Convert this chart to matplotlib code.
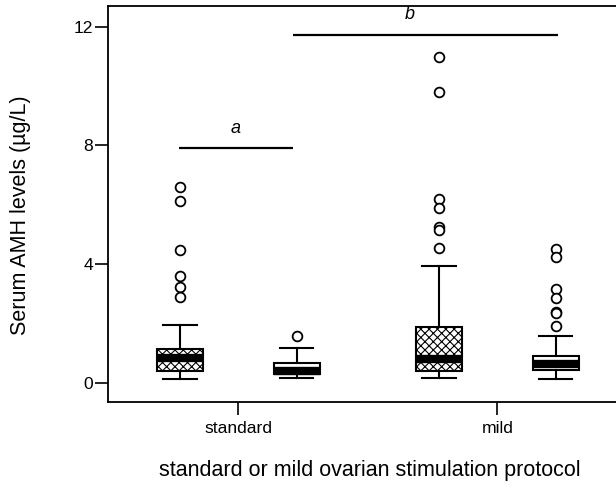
import matplotlib.pyplot as plt

plt.rcParams['font.family'] = ['Liberation Sans', 'DejaVu Sans']
plt.rcParams['hatch.linewidth'] = 0.8

# box statistics: (standard, hatched), (standard, plain), (mild, hatched), (mild, plain)
positions = [0.775, 1.225, 1.775, 2.225]
hatched = [True, False, True, False]
whislo = [0.14, 0.18, 0.17, 0.15]
q1 = [0.41, 0.29, 0.41, 0.45]
med = [0.85, 0.40, 0.80, 0.65]
q3 = [1.14, 0.66, 1.89, 0.92]
whishi = [1.96, 1.18, 3.94, 1.59]
fliers = [
    [6.61, 6.13, 4.47, 3.60, 3.25, 2.89],
    [1.60],
    [10.98, 9.80, 6.21, 5.88, 5.27, 5.15, 4.56],
    [4.53, 4.26, 3.18, 2.88, 2.41, 2.35, 1.92],
]

group_pos = [1, 2]
group_labels = ["standard", "mild"]

# significance bars: (x start, x end, y, label)
sig_x0 = [0.77, 1.21]
sig_x1 = [1.21, 2.236]
sig_y = [7.9, 11.73]
sig_lab = ["a", "b"]

fig = plt.figure(figsize=(6.16, 4.88), dpi=100)
ax = fig.add_axes([0.175, 0.176, 0.83, 0.812])

stats = []
for i in range(len(positions)):
    stats.append(dict(whislo=whislo[i], q1=q1[i], med=med[i], q3=q3[i],
                      whishi=whishi[i], fliers=fliers[i]))

bp = ax.bxp(stats, positions=positions, widths=0.178, patch_artist=True,
            boxprops=dict(linewidth=1.5, edgecolor='black'),
            medianprops=dict(color='black', linewidth=6, solid_capstyle='butt'),
            whiskerprops=dict(linewidth=1.5, color='black'),
            capprops=dict(linewidth=1.5, color='black'),
            capwidths=0.13,
            flierprops=dict(marker='o', markersize=7, markerfacecolor='white',
                            markeredgecolor='black', markeredgewidth=1.3))
for box, h in zip(bp['boxes'], hatched):
    box.set_facecolor('white')
    if h:
        box.set_hatch('xxxx')

for x0, x1, y, lab in zip(sig_x0, sig_x1, sig_y, sig_lab):
    ax.plot([x0, x1], [y, y], color='black', linewidth=1.6, solid_capstyle='butt')
    ax.text((x0 + x1) / 2 + (0.0 if lab == "a" else -0.06), y + 0.4, lab,
            style='italic', fontsize=13, ha='center', va='bottom')

ax.set_xlim(0.496, 2.47)
ax.set_ylim(-0.64, 12.7)
ax.set_xticks(group_pos)
ax.set_xticklabels(group_labels)
ax.set_yticks([0, 4, 8, 12])
ax.tick_params(axis='both', direction='out', length=9.5, width=1.2, labelsize=12.6, pad=1)
ax.tick_params(axis='x', pad=4)
ax.spines['right'].set_visible(False)
for s in ['left', 'bottom', 'top']:
    ax.spines[s].set_linewidth(1.3)

ax.set_ylabel("Serum AMH levels (µg/L)", fontsize=15.5)
ax.yaxis.set_label_coords(-0.15, 0.472)
ax.set_xlabel("standard or mild ovarian stimulation protocol", fontsize=15.5)
ax.xaxis.set_label_coords(0.512, -0.145)

fig.savefig("out.png", dpi=100)
